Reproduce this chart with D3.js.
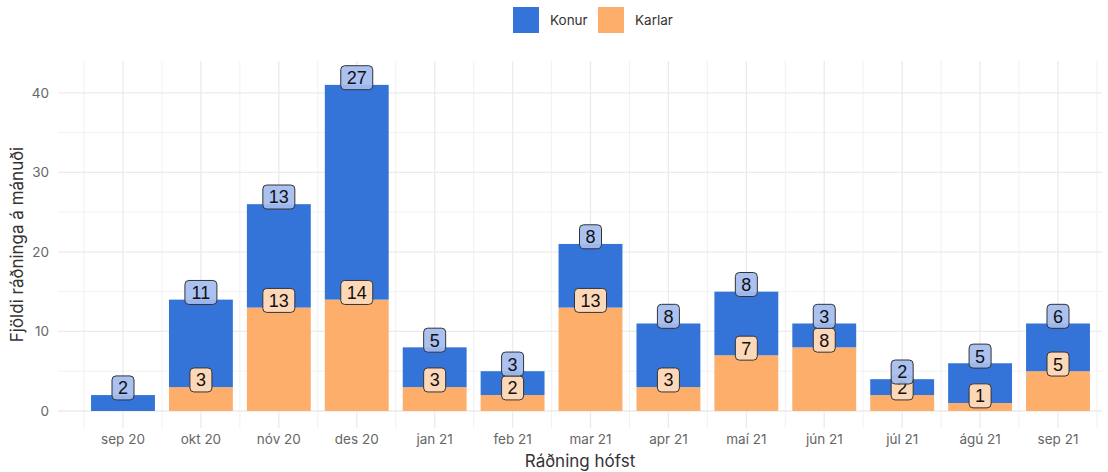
<!DOCTYPE html>
<html>
<head>
<meta charset="utf-8">
<script src="https://cdn.jsdelivr.net/npm/d3@7"></script>
<style>
  html, body { margin: 0; padding: 0; background: #fff; }
  svg { display: block; }
</style>
</head>
<body>
<svg id="chart" width="1108" height="472"></svg>
<script>
// Monthly hires split by gender
const months = ["sep 20", "okt 20", "nóv 20", "des 20", "jan 21", "feb 21", "mar 21",
                "apr 21", "maí 21", "jún 21", "júl 21", "ágú 21", "sep 21"];
const karlar = [0, 3, 13, 14, 3, 2, 13, 3, 7, 8, 2, 1, 5];
const konur  = [2, 11, 13, 27, 5, 3, 8, 8, 8, 3, 2, 5, 6];
const yTicks = [0, 10, 20, 30, 40];
const yMinor = [5, 15, 25, 35];
const seriesNames = ["Konur", "Karlar"];

const colors = { Konur: "#3474d9", Karlar: "#fdae6b" };
const labelFill = { Konur: "#a4bdef", Karlar: "#fdd8b8" };

const svg = d3.select("#chart");
const panel = { left: 58, right: 1102, top: 61, bottom: 428 };

// month centres: the date range leaves more room on the left than on the right
const x = d3.scalePoint().domain(months)
  .range([panel.left + 65, panel.right - 44]);
const step = x.step();
const barW = step * 0.82;

const y = d3.scaleLinear().domain([-2.14, 44.0]).range([panel.bottom, panel.top]);

const grid = svg.append("g");
// minor horizontal
grid.selectAll(".hmin").data(yMinor).join("line")
  .attr("x1", panel.left).attr("x2", panel.right)
  .attr("y1", d => y(d)).attr("y2", d => y(d))
  .attr("stroke", "#efefef").attr("stroke-width", 0.9);
// minor vertical (between months)
const vMinor = months.map(m => x(m) - step / 2).concat([x(months[months.length - 1]) + step / 2]);
grid.selectAll(".vmin").data(vMinor).join("line")
  .attr("x1", d => d).attr("x2", d => d)
  .attr("y1", panel.top).attr("y2", panel.bottom)
  .attr("stroke", "#efefef").attr("stroke-width", 0.9);
// major horizontal
grid.selectAll(".hmaj").data(yTicks).join("line")
  .attr("x1", panel.left).attr("x2", panel.right)
  .attr("y1", d => y(d)).attr("y2", d => y(d))
  .attr("stroke", "#ebebeb").attr("stroke-width", 1.3);
// major vertical
grid.selectAll(".vmaj").data(months).join("line")
  .attr("x1", d => x(d)).attr("x2", d => x(d))
  .attr("y1", panel.top).attr("y2", panel.bottom)
  .attr("stroke", "#ebebeb").attr("stroke-width", 1.3);

// stacked bars
const rows = months.map((m, i) => ({ month: m, Karlar: karlar[i], Konur: konur[i] }));
const stack = d3.stack().keys(["Karlar", "Konur"])(rows);
svg.append("g").selectAll("g").data(stack).join("g")
  .attr("fill", s => colors[s.key])
  .selectAll("rect").data(d => d).join("rect")
  .attr("x", d => x(d.data.month) - barW / 2)
  .attr("width", barW)
  .attr("y", d => y(d[1]))
  .attr("height", d => y(d[0]) - y(d[1]));

// value labels, sitting just above the top of each segment
const nudge = 0.9;
const labels = [];
stack.forEach(s => {
  s.forEach(d => {
    const v = d.data[s.key];
    if (v > 0) labels.push({ key: s.key, month: d.data.month, value: v, pos: d[1] + nudge });
  });
});
const lg = svg.append("g");
labels.forEach(l => {
  const g = lg.append("g").attr("transform", `translate(${x(l.month)},${y(l.pos)})`);
  const txt = String(l.value);
  const bw = txt.length > 1 ? 32 : 22;
  const bh = 24;
  g.append("rect")
    .attr("x", -bw / 2).attr("y", -bh / 2)
    .attr("width", bw).attr("height", bh)
    .attr("rx", 4).attr("ry", 4)
    .attr("fill", labelFill[l.key])
    .attr("fill-opacity", l.key === "Konur" ? 0.92 : 1)
    .attr("stroke", "#333").attr("stroke-width", 1);
  g.append("text")
    .attr("text-anchor", "middle")
    .attr("dy", "0.36em")
    .attr("font-family", "Liberation Sans, Arial, sans-serif")
    .attr("font-size", 18)
    .attr("fill", "#111")
    .text(txt);
});

const axisFont = "Inter, 'Open Sans', sans-serif";

// y axis tick labels
svg.append("g").selectAll("text").data(yTicks).join("text")
  .attr("x", 49).attr("y", d => y(d)).attr("dy", "0.35em")
  .attr("text-anchor", "end")
  .attr("font-family", axisFont).attr("font-size", 13.5)
  .attr("fill", "#666").text(d => d);

// x axis tick labels
svg.append("g").selectAll("text").data(months).join("text")
  .attr("x", d => x(d)).attr("y", 444)
  .attr("text-anchor", "middle")
  .attr("font-family", axisFont).attr("font-size", 13.5)
  .attr("fill", "#666").text(d => d);

// axis titles
svg.append("text")
  .attr("x", (panel.left + panel.right) / 2).attr("y", 467)
  .attr("text-anchor", "middle")
  .attr("font-family", axisFont).attr("font-size", 17)
  .attr("fill", "#333").text("Ráðning hófst");
svg.append("text")
  .attr("transform", `translate(23,${(panel.top + panel.bottom) / 2}) rotate(-90)`)
  .attr("text-anchor", "middle")
  .attr("font-family", axisFont).attr("font-size", 17)
  .attr("fill", "#333").text("Fjöldi ráðninga á mánuði");

// legend
const legend = svg.append("g");
const legX = [513, 598];
seriesNames.forEach((n, i) => {
  legend.append("rect")
    .attr("x", legX[i]).attr("y", 7).attr("width", 26).attr("height", 26)
    .attr("fill", colors[n]);
  legend.append("text")
    .attr("x", legX[i] + 37).attr("y", 20).attr("dy", "0.35em")
    .attr("font-family", axisFont).attr("font-size", 13.5)
    .attr("fill", "#333").text(n);
});
</script>
</body>
</html>
